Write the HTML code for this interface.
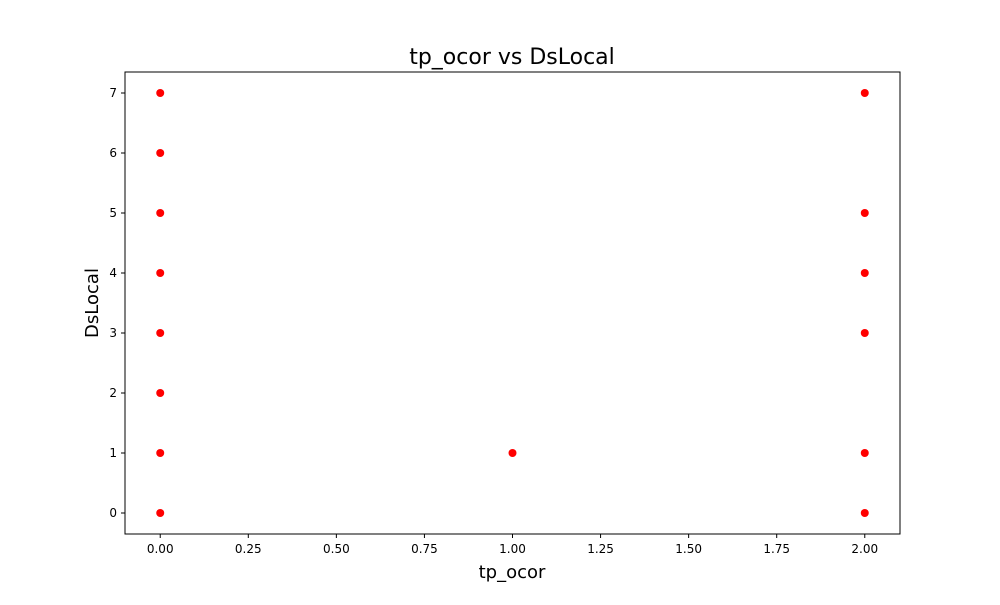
<!DOCTYPE html>
<html><head><meta charset="utf-8"><style>
body{margin:0;background:#fff;}
svg text{font-family:"DejaVu Sans","Liberation Sans",sans-serif;}
</style></head><body>
<svg id="chart" width="1000" height="600" xmlns="http://www.w3.org/2000/svg">
<rect width="1000" height="600" fill="#fff"/>
<text x="512" y="64" font-size="22" text-anchor="middle">tp_ocor vs DsLocal</text>
<text x="512" y="578" font-size="18" text-anchor="middle">tp_ocor</text>
<text transform="translate(98,303) rotate(-90)" font-size="18" text-anchor="middle">DsLocal</text>
<g id="xticks"></g><g id="yticks"></g><g id="points"></g>
<rect x="125" y="72" width="775" height="462" fill="none" stroke="#000" stroke-width="1"/>
</svg>
<script>
const xTicks=[0,0.25,0.5,0.75,1,1.25,1.5,1.75,2];
const xTickLabels=["0.00","0.25","0.50","0.75","1.00","1.25","1.50","1.75","2.00"];
const yTicks=[0,1,2,3,4,5,6,7];
const xValues=[0,0,0,0,0,0,0,0,1,2,2,2,2,2,2];
const yValues=[0,1,2,3,4,5,6,7,1,0,1,3,4,5,7];
const NS="http://www.w3.org/2000/svg";
const L=125,R=900,T=72,B=534,xmin=-0.1,xmax=2.1,ymin=-0.35,ymax=7.35;
function sx(v){return L+(v-xmin)/(xmax-xmin)*(R-L);}
function sy(v){return B-(v-ymin)/(ymax-ymin)*(B-T);}
function mk(tag,attrs,parent){const e=document.createElementNS(NS,tag);for(const k in attrs)e.setAttribute(k,attrs[k]);parent.appendChild(e);return e;}
const gx=document.getElementById('xticks'),gy=document.getElementById('yticks'),gp=document.getElementById('points');
xTicks.forEach((v,i)=>{const x=sx(v);
const l=mk('line',{x1:x,x2:x,y1:B,y2:B+4,stroke:'#000'},gx);


const t=mk('text',{x:x,y:B+19,'font-size':12,'text-anchor':'middle'},gx);t.textContent=xTickLabels[i];

});
yTicks.forEach(v=>{const y=sy(v);
const l=mk('line',{x1:L-4,x2:L,y1:y,y2:y,stroke:'#000'},gy);


const t=mk('text',{x:L-8,y:y+4,'font-size':12,'text-anchor':'end'},gy);t.textContent=String(v);

});
xValues.forEach((v,i)=>{const c=mk('circle',{cx:sx(v),cy:sy(yValues[i]),r:4,fill:'#ff0000'},gp);

});
</script>
</body></html>
